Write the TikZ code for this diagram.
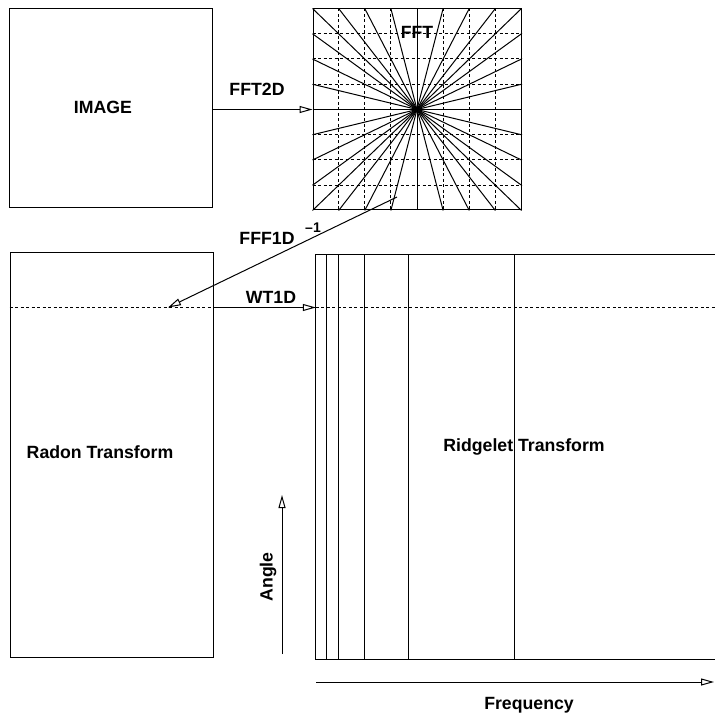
\documentclass[tikz,border=0pt]{standalone}
\usepackage{fontspec}
\setmainfont{Liberation Sans}
\usetikzlibrary{arrows.meta,calc}
\begin{document}
\begin{tikzpicture}[
  x=1pt, y=-1pt,
  box/.style={rectangle, draw, line width=1pt, inner sep=0pt},
  label_text/.style={font=\fontsize{17.7}{20}\selectfont\bfseries, inner sep=0pt},
  small_text/.style={font=\fontsize{14}{16}\selectfont\bfseries, inner sep=0pt},
  arrow/.style={-{Triangle[open, length=13pt, width=7pt]}, line width=1pt},
  grid_line/.style={dash pattern=on 3pt off 2.5pt, line width=1pt},
  ray/.style={line width=1pt}
]
  \useasboundingbox (0,0) rectangle (715,714);

  % image and its spectrum
  \node[box, minimum width=203pt, minimum height=199pt] (image) at (110.5,108.5) {};
  \node[label_text] (image_label) at (103,107) {IMAGE};

  \node[box, minimum width=208pt, minimum height=201pt] (fft) at (417,109.5) {};
  \foreach \i in {1,2,3,5,6,7} {
    \draw[grid_line] ($(fft.north west)!\i/8!(fft.north east)$)
      -- ($(fft.south west)!\i/8!(fft.south east)$);
    \draw[grid_line] ($(fft.north west)!\i/8!(fft.south west)$)
      -- ($(fft.north east)!\i/8!(fft.south east)$);
  }
  % radial lines through the centre
  \foreach \i in {0,...,8}
    \draw[ray] ($(fft.north west)!\i/8!(fft.north east)$)
      -- ($(fft.south east)!\i/8!(fft.south west)$);
  \foreach \i in {1,...,7}
    \draw[ray] ($(fft.north west)!\i/8!(fft.south west)$)
      -- ($(fft.south east)!\i/8!(fft.north east)$);
  \node[label_text] (fft_label) at (417,32) {FFT};

  \draw[arrow] (image.east |- fft.west) -- (fft.west);
  \node[label_text] (fft2d_label) at (257,89) {FFT2D};

  % radon and ridgelet planes
  \node[box, minimum width=203pt, minimum height=404pt] (radon) at (111.5,455) {};
  \node[label_text] (radon_label) at (100,452) {Radon Transform};

  \node[minimum width=399pt, minimum height=404pt, inner sep=0pt] (ridge) at (515.5,457) {};
  \draw[line width=1pt] (ridge.north east) -| (ridge.south west) -- (ridge.south east);
  \foreach \x in {11,23,49,93,199}
    \draw[ray] ($(ridge.north west)+(\x,0)$) -- ($(ridge.south west)+(\x,0)$);
  \node[label_text] (ridge_label) at (524,447) {Ridgelet Transform};

  \coordinate (slice) at (0,307.5);
  \draw[grid_line] (radon.west |- slice) -- (radon.east |- slice);
  \draw[grid_line] (ridge.west |- slice) -- (ridge.east |- slice);

  \coordinate (fft_pick) at (397,197);
  \coordinate (radon_hit) at (168,307.5);
  \draw[arrow] (fft_pick) -- (radon_hit);
  \node[label_text] (fff1d_label) at (267,238) {FFF1D};
  \node[small_text] (inverse_label) at (313,228) {–1};

  \draw[arrow] (radon.east |- slice) -- (ridge.west |- slice);
  \node[label_text] (wt1d_label) at (271,297) {WT1D};

  % axes
  \coordinate (angle_from) at (282,654);
  \coordinate (angle_to) at (282,495);
  \draw[arrow] (angle_from) -- (angle_to);
  \node[label_text, rotate=90] (angle_label) at (268,577) {Angle};

  \coordinate (freq_from) at (316,682);
  \coordinate (freq_to) at (714,682);
  \draw[arrow] (freq_from) -- (freq_to);
  \node[label_text] (freq_label) at (529,705) {Frequency};
\end{tikzpicture}
\end{document}
